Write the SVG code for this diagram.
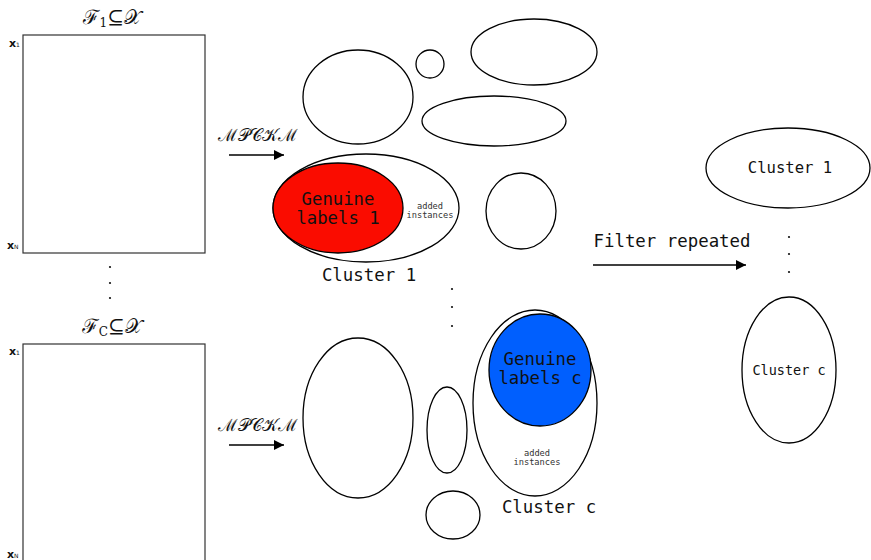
<svg xmlns="http://www.w3.org/2000/svg" width="871" height="560" viewBox="0 0 871 560">
  <defs>
    <marker id="arrow" viewBox="0 0 10 10" refX="10" refY="5" markerWidth="12" markerHeight="10" markerUnits="userSpaceOnUse" orient="auto">
      <path d="M0,0 L10,5 L0,10 z" fill="#000"/>
    </marker>
    <style>
      .blob { fill: #fff; stroke: #000; stroke-width: 1.3; }
      .mat { fill: #fff; stroke: #333; stroke-width: 1.2; }
      .mono { font-family: "DejaVu Sans Mono", "Liberation Mono", monospace; fill: #111; text-anchor: middle; }
      .big { font-size: 17.3px; }
      .lbl { font-size: 17.4px; }
      .small { font-size: 8.7px; fill: #333; }
      .math { font-family: "DejaVu Serif", "Noto Sans", serif; font-size: 20px; fill: #111; text-anchor: middle; }
      .calli { font-family: "DejaVu Serif", serif; font-size: 17px; fill: #111; }
      .row { font-family: "DejaVu Sans", "Liberation Sans", sans-serif; font-weight: bold; font-size: 11px; fill: #111; }
      .sub { font-weight: normal; font-size: 6px; }
      .dot { fill: #111; }
      .conn { stroke: #000; stroke-width: 1.3; fill: none; marker-end: url(#arrow); }
    </style>
  </defs>

  <rect width="871" height="560" fill="#fff"/>

  <!-- feature subset 1 -->
  <g id="matrix-1">
    <text class="math" x="112" y="24">ℱ<tspan font-size="12" dy="3">1</tspan><tspan dy="-3">⊆𝒳</tspan></text>
    <rect class="mat" x="23" y="35" width="182" height="218"/>
    <text class="row" x="9" y="47">x<tspan class="sub">1</tspan></text>
    <text class="row" x="7" y="249">x<tspan class="sub">N</tspan></text>
  </g>

  <!-- vertical ellipsis between subsets -->
  <g id="dots-left">
    <circle class="dot" cx="110" cy="267" r="1.1"/>
    <circle class="dot" cx="110" cy="283" r="1.1"/>
    <circle class="dot" cx="110" cy="298" r="1.1"/>
  </g>

  <!-- feature subset c -->
  <g id="matrix-c">
    <text class="math" x="112" y="333">ℱ<tspan font-size="12" dy="3">C</tspan><tspan dy="-3">⊆𝒳</tspan></text>
    <rect class="mat" x="23" y="344" width="182" height="230"/>
    <text class="row" x="9" y="355">x<tspan class="sub">1</tspan></text>
    <text class="row" x="7" y="558">x<tspan class="sub">N</tspan></text>
  </g>

  <!-- clustering of subset 1 -->
  <g id="clusters-1">
    <ellipse class="blob" cx="358" cy="97" rx="55" ry="47"/>
    <ellipse class="blob" cx="430" cy="64" rx="14" ry="14"/>
    <ellipse class="blob" cx="534" cy="52" rx="63" ry="33"/>
    <ellipse class="blob" cx="494" cy="121" rx="72" ry="25"/>
    <ellipse class="blob" cx="521" cy="211" rx="35" ry="38"/>
  </g>

  <g id="cluster-1">
    <ellipse class="blob" cx="366" cy="208" rx="93" ry="54"/>
    <ellipse cx="338" cy="208" rx="65" ry="45" fill="#fa0c00" stroke="#000" stroke-width="1.3"/>
    <text class="mono big" x="338" y="205">Genuine</text>
    <text class="mono big" x="338" y="224">labels 1</text>
    <text class="mono small" x="430" y="209">added</text>
    <text class="mono small" x="430" y="218">instances</text>
    <text class="mono lbl" x="369" y="281">Cluster 1</text>
  </g>

  <g id="dots-mid">
    <circle class="dot" cx="452" cy="289" r="1.1"/>
    <circle class="dot" cx="452" cy="307" r="1.1"/>
    <circle class="dot" cx="452" cy="326" r="1.1"/>
  </g>

  <!-- clustering of subset c -->
  <g id="clusters-c">
    <ellipse class="blob" cx="358" cy="418" rx="55" ry="80"/>
    <ellipse class="blob" cx="447" cy="430" rx="20" ry="43"/>
    <ellipse class="blob" cx="453" cy="515" rx="27" ry="24"/>
  </g>

  <g id="cluster-c">
    <ellipse class="blob" cx="535" cy="403" rx="62" ry="93"/>
    <ellipse cx="540" cy="370" rx="51" ry="56" fill="#005ffe" stroke="#000" stroke-width="1.3"/>
    <text class="mono big" x="540" y="365">Genuine</text>
    <text class="mono big" x="540" y="384">labels c</text>
    <text class="mono small" x="537" y="456">added</text>
    <text class="mono small" x="537" y="465">instances</text>
    <text class="mono lbl" x="549" y="513">Cluster c</text>
  </g>

  <!-- merged result -->
  <g id="result-1">
    <ellipse class="blob" cx="788" cy="168" rx="82" ry="40"/>
    <text class="mono" font-size="15.6" x="790" y="173">Cluster 1</text>
  </g>

  <g id="dots-right">
    <circle class="dot" cx="789" cy="237" r="1.1"/>
    <circle class="dot" cx="789" cy="254" r="1.1"/>
    <circle class="dot" cx="789" cy="272" r="1.1"/>
  </g>

  <g id="result-c">
    <ellipse class="blob" cx="789" cy="370" rx="47" ry="73" stroke-width="1.1"/>
    <text class="mono" font-size="13.5" x="789" y="375">Cluster c</text>
  </g>

  <!-- process arrows and their labels -->
  <g id="connectors">
    <text class="calli" x="218" y="141">ℳ𝒫𝒞𝒦ℳ</text>
    <line class="conn" x1="229" y1="155" x2="284" y2="155"/>
    <text class="calli" x="218" y="431">ℳ𝒫𝒞𝒦ℳ</text>
    <line class="conn" x1="229" y1="445" x2="284" y2="445"/>
    <text class="mono lbl" x="672" y="247" font-size="17.7">Filter repeated</text>
    <line class="conn" x1="593" y1="265" x2="746" y2="265"/>
  </g>
</svg>
